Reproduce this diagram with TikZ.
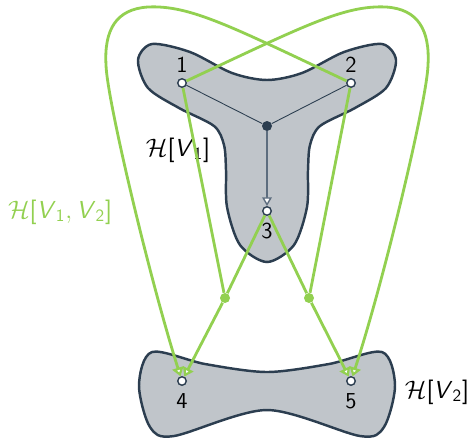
\documentclass[tikz,border=0pt]{standalone}
\usepackage{amsmath}
\usepackage{tikz}
\usetikzlibrary{positioning, arrows.meta, calc}
\definecolor{hgreen}{RGB}{146,208,80}
\definecolor{hdark}{RGB}{44,62,80}
\definecolor{hgray}{RGB}{192,197,202}
\definecolor{hslate}{RGB}{93,109,126}
\newcommand{\vset}[1]{\textsf{\textit{V}}_{\textsf{#1}}}
\newcommand{\hsub}[1]{\mathcal{H}\textsf{[}#1\textsf{]}}
\tikzset{
  % Induced sub-hypergraph region (grey blob)
  blob/.style={
    draw=hdark, fill=hgray, line width=1.4pt
  },
  % Vertex (small open circle)
  vtx/.style={
    circle, draw=hdark, fill=white, line width=0.8pt,
    inner sep=0pt, minimum size=0.17cm
  },
  % Centre of the hyperedge inside H[V1]
  hub/.style={
    circle, fill=hdark, inner sep=0pt, minimum size=0.2cm
  },
  % Join point of a crossing hyperedge
  hjoin/.style={
    circle, fill=hgreen, inner sep=0pt, minimum size=0.2cm
  },
  % Vertex number
  num/.style={
    inner sep=0pt, font=\fontsize{13}{15}\selectfont\sffamily
  },
  % Name of a region
  setlbl/.style={
    inner sep=0pt, font=\fontsize{14}{16}\selectfont\sffamily
  },
  % Tail of the hyperedge inside H[V1]
  gedge/.style={
    draw=hdark, line width=0.5pt
  },
  % Head of the hyperedge inside H[V1]
  garc/.style={
    draw=hslate, line width=0.8pt,
    -{Triangle[open, fill=white, length=5pt, width=5.5pt]}
  },
  % Crossing hyperedge, tail part
  hline/.style={
    draw=hgreen, line width=1.6pt
  },
  % Crossing hyperedge, head part
  harrow/.style={
    hline, -{Triangle[open, fill=white, length=5pt, width=6.5pt]}
  }
}

\begin{document}
\begin{tikzpicture}[x=0.02cm, y=-0.02cm]
\useasboundingbox (0,0) rectangle (475,437);

% ============================================================
% REGIONS -- H[V1] (top) and H[V2] (bottom)
% ============================================================
\draw[blob] plot[smooth cycle] coordinates {
  (152,44) (190,52) (232,73) (267,80) (302,73) (344,52) (382,44)
  (396,60) (386,88) (355,108) (320,126) (310,145) (308,170)
  (307,207) (294,245) (267,262) (240,245) (227,207) (226,170)
  (224,145) (214,126) (179,108) (148,88) (138,60)};
\draw[blob] plot[smooth cycle] coordinates {
  (152,352) (205,364) (267,372) (329,364) (382,352) (395,385)
  (384,427) (360,436) (267,410) (174,436) (150,427) (139,385)};

% ============================================================
% VERTICES
% ============================================================
\node[hub] (hub) at (267,126) {};
\node[vtx] (v1) at (182,83) {};
\node[vtx] (v2) at (351,83) {};
\node[vtx] (v3) at (267,211) {};
\node[vtx] (v4) at (182,381) {};
\node[vtx] (v5) at (351,381) {};
\node[hjoin] (j4) at (225,298) {};
\node[hjoin] (j5) at (309,298) {};

\node[num, above=0.1cm of v1]  (v1-num) {1};
\node[num, above=0.1cm of v2]  (v2-num) {2};
\node[num, below=0.14cm of v3] (v3-num) {3};
\node[num, below=0.14cm of v4] (v4-num) {4};
\node[num, below=0.14cm of v5] (v5-num) {5};

% ============================================================
% REGION NAMES
% ============================================================
\node[setlbl] (hv1) at (178,150) {$\hsub{\vset{1}}$};
\node[setlbl] (hv2) at (437,392) {$\hsub{\vset{2}}$};
\node[setlbl, text=hgreen] (hv12) at (60,212)
  {$\hsub{\vset{1}, \vset{2}}$};

% ============================================================
% HYPEREDGES
% ============================================================

% -- inside H[V1]: {1,2} --> {3} --
\draw[gedge] (hub) -- (v1);
\draw[gedge] (hub) -- (v2);
\draw[garc]  (hub) -- (v3);

% -- {1,3} --> {4}  and  {2,3} --> {5} --
\draw[hline]  (v1) -- (j4);
\draw[hline]  (v3) -- (j4);
\draw[harrow] (j4) -- (v4);
\draw[hline]  (v2) -- (j5);
\draw[hline]  (v3) -- (j5);
\draw[harrow] (j5) -- (v5);

% -- {2} --> {4}  and  {1} --> {5}, looping round the outside --
\draw[harrow] (v2) .. controls (230,26) and (190,5) .. (148,7)
  .. controls (116,9) and (104,30) .. (106,65)
  .. controls (107,100) and (150,280) .. (v4);
\draw[harrow] (v1) .. controls (304,26) and (344,5) .. (386,7)
  .. controls (418,9) and (430,30) .. (428,65)
  .. controls (427,100) and (384,280) .. (v5);

\end{tikzpicture}
\end{document}
